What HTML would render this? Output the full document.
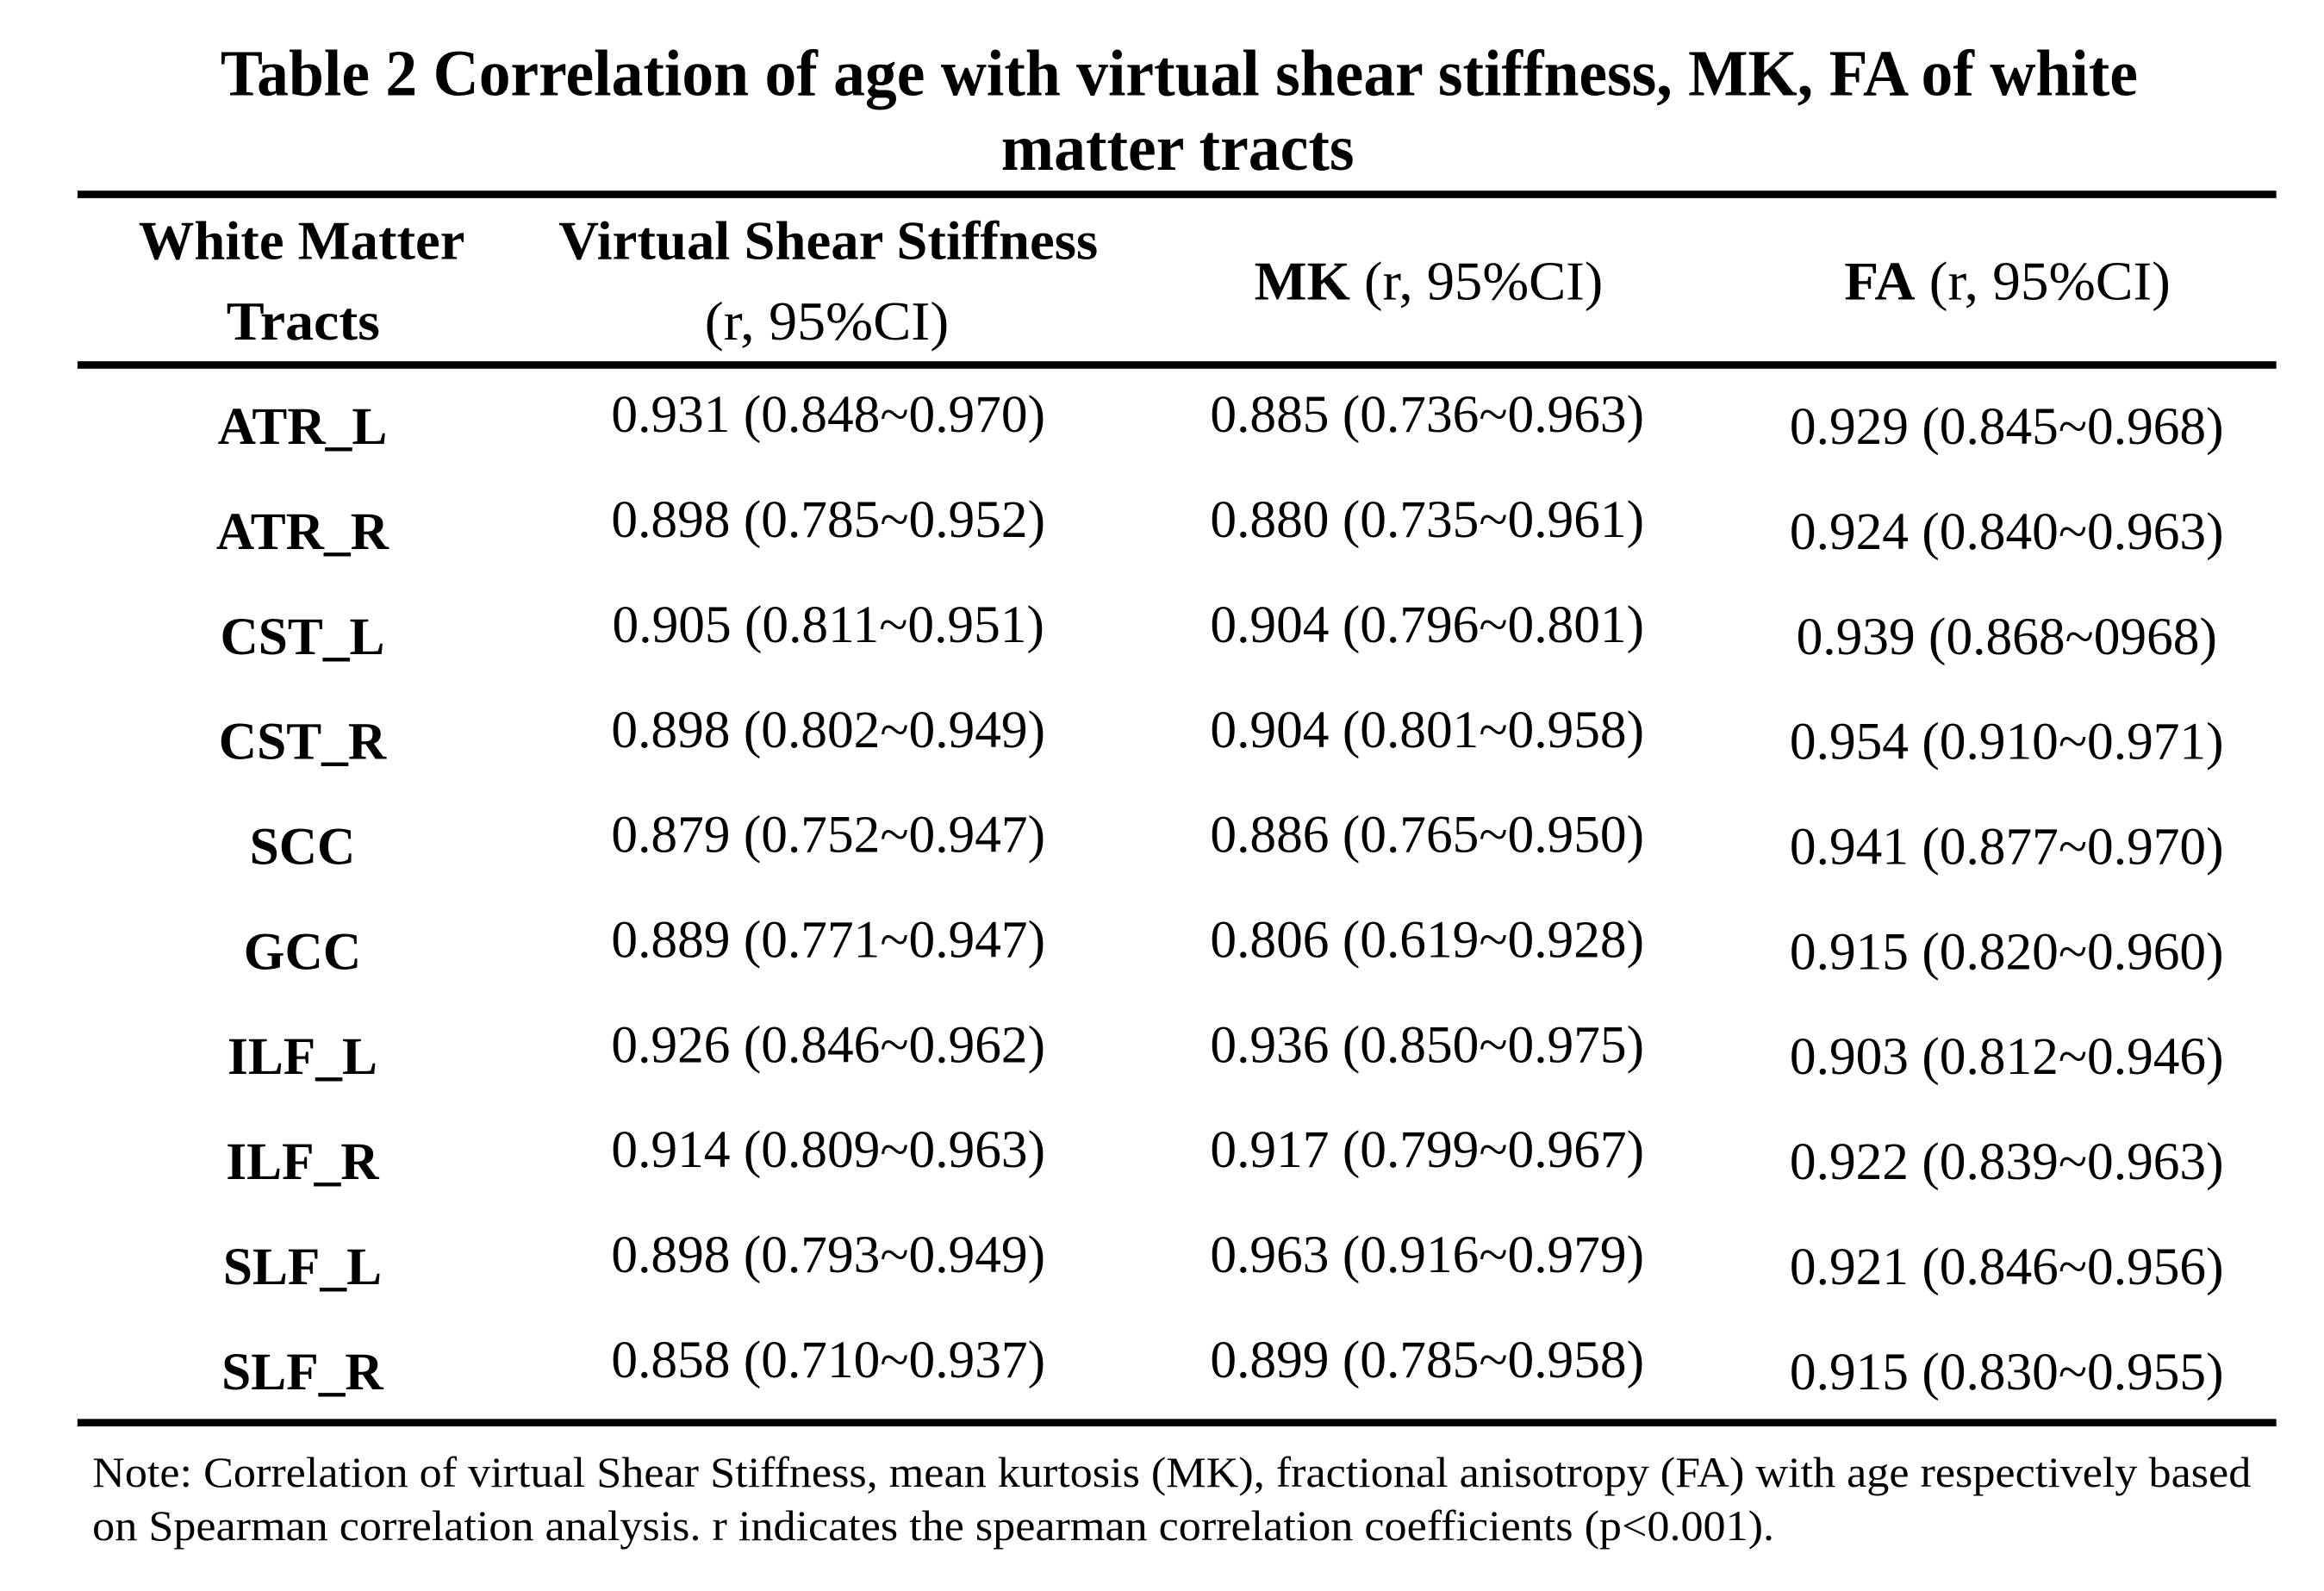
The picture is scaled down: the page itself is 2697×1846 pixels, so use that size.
<!DOCTYPE html>
<html><head><meta charset="utf-8"><style>
html,body{margin:0;padding:0;background:#fff;}
svg{display:block;}
text{font-family:"Liberation Serif","Times New Roman",serif;fill:#000;}
.b{font-weight:bold;}
</style></head><body>
<svg id="tbl" width="2697" height="1846" viewBox="0 0 1560 1068" preserveAspectRatio="none" xmlns="http://www.w3.org/2000/svg">
<rect width="1560" height="1068" fill="#fff"/>
<text class="b" x="148" y="64" font-size="44" textLength="1287" lengthAdjust="spacingAndGlyphs">Table 2 Correlation of age with virtual shear stiffness, MK, FA of white</text>
<text class="b" x="672" y="114" font-size="44" textLength="237" lengthAdjust="spacingAndGlyphs">matter tracts</text>
<rect x="52" y="128" width="1476" height="5" fill="#000"/>
<rect x="52" y="242.5" width="1476" height="5" fill="#000"/>
<rect x="52" y="952.5" width="1476" height="5" fill="#000"/>
<text class="b" x="93" y="174" font-size="37" textLength="219" lengthAdjust="spacingAndGlyphs">White Matter</text>
<text class="b" x="152" y="228" font-size="37" textLength="103" lengthAdjust="spacingAndGlyphs">Tracts</text>
<text class="b" x="375" y="174" font-size="37" textLength="362" lengthAdjust="spacingAndGlyphs">Virtual Shear Stiffness</text>
<text x="473" y="228" font-size="37" textLength="164" lengthAdjust="spacingAndGlyphs">(r, 95%CI)</text>
<text x="842" y="201" font-size="37" textLength="234" lengthAdjust="spacingAndGlyphs"><tspan class="b">MK</tspan> (r, 95%CI)</text>
<text x="1238" y="201" font-size="37" textLength="219" lengthAdjust="spacingAndGlyphs"><tspan class="b">FA</tspan> (r, 95%CI)</text>
<g id="rows"></g>
<text x="62" y="998" font-size="29" textLength="1449" lengthAdjust="spacingAndGlyphs">Note: Correlation of virtual Shear Stiffness, mean kurtosis (MK), fractional anisotropy (FA) with age respectively based</text>
<text x="62" y="1034" font-size="29" textLength="1129" lengthAdjust="spacingAndGlyphs">on Spearman correlation analysis. r indicates the spearman correlation coefficients (p&lt;0.001).</text>
</svg>
<script>
const tracts = ["ATR_L","ATR_R","CST_L","CST_R","SCC","GCC","ILF_L","ILF_R","SLF_L","SLF_R"];
const vssValues = ["0.931 (0.848~0.970)","0.898 (0.785~0.952)","0.905 (0.811~0.951)","0.898 (0.802~0.949)","0.879 (0.752~0.947)","0.889 (0.771~0.947)","0.926 (0.846~0.962)","0.914 (0.809~0.963)","0.898 (0.793~0.949)","0.858 (0.710~0.937)"];
const mkValues = ["0.885 (0.736~0.963)","0.880 (0.735~0.961)","0.904 (0.796~0.801)","0.904 (0.801~0.958)","0.886 (0.765~0.950)","0.806 (0.619~0.928)","0.936 (0.850~0.975)","0.917 (0.799~0.967)","0.963 (0.916~0.979)","0.899 (0.785~0.958)"];
const faValues = ["0.929 (0.845~0.968)","0.924 (0.840~0.963)","0.939 (0.868~0968)","0.954 (0.910~0.971)","0.941 (0.877~0.970)","0.915 (0.820~0.960)","0.903 (0.812~0.946)","0.922 (0.839~0.963)","0.921 (0.846~0.956)","0.915 (0.830~0.955)"];
const NS = "http://www.w3.org/2000/svg";
const g = document.getElementById("rows");
const rowY = i => 298 + i * 70.5;
function addText(x, y, str, bold, name, size) {
  const t = document.createElementNS(NS, "text");
  t.setAttribute("x", x);
  t.setAttribute("y", y);
  t.setAttribute("text-anchor", "middle");
  t.setAttribute("font-size", size);
  if (bold) t.setAttribute("class", "b");
  t.textContent = str;
  
  
  g.appendChild(t);
}
tracts.forEach((tr, i) => {
  const y = rowY(i);
  addText(203, y, tr, true, "tract-label", 35.5);
  addText(556, y - 8, vssValues[i], false, "vss-value", 35.5);
  addText(958, y - 8, mkValues[i], false, "mk-value", 35.5);
  addText(1347, y, faValues[i], false, "fa-value", 35.5);
});
</script>
</body></html>
